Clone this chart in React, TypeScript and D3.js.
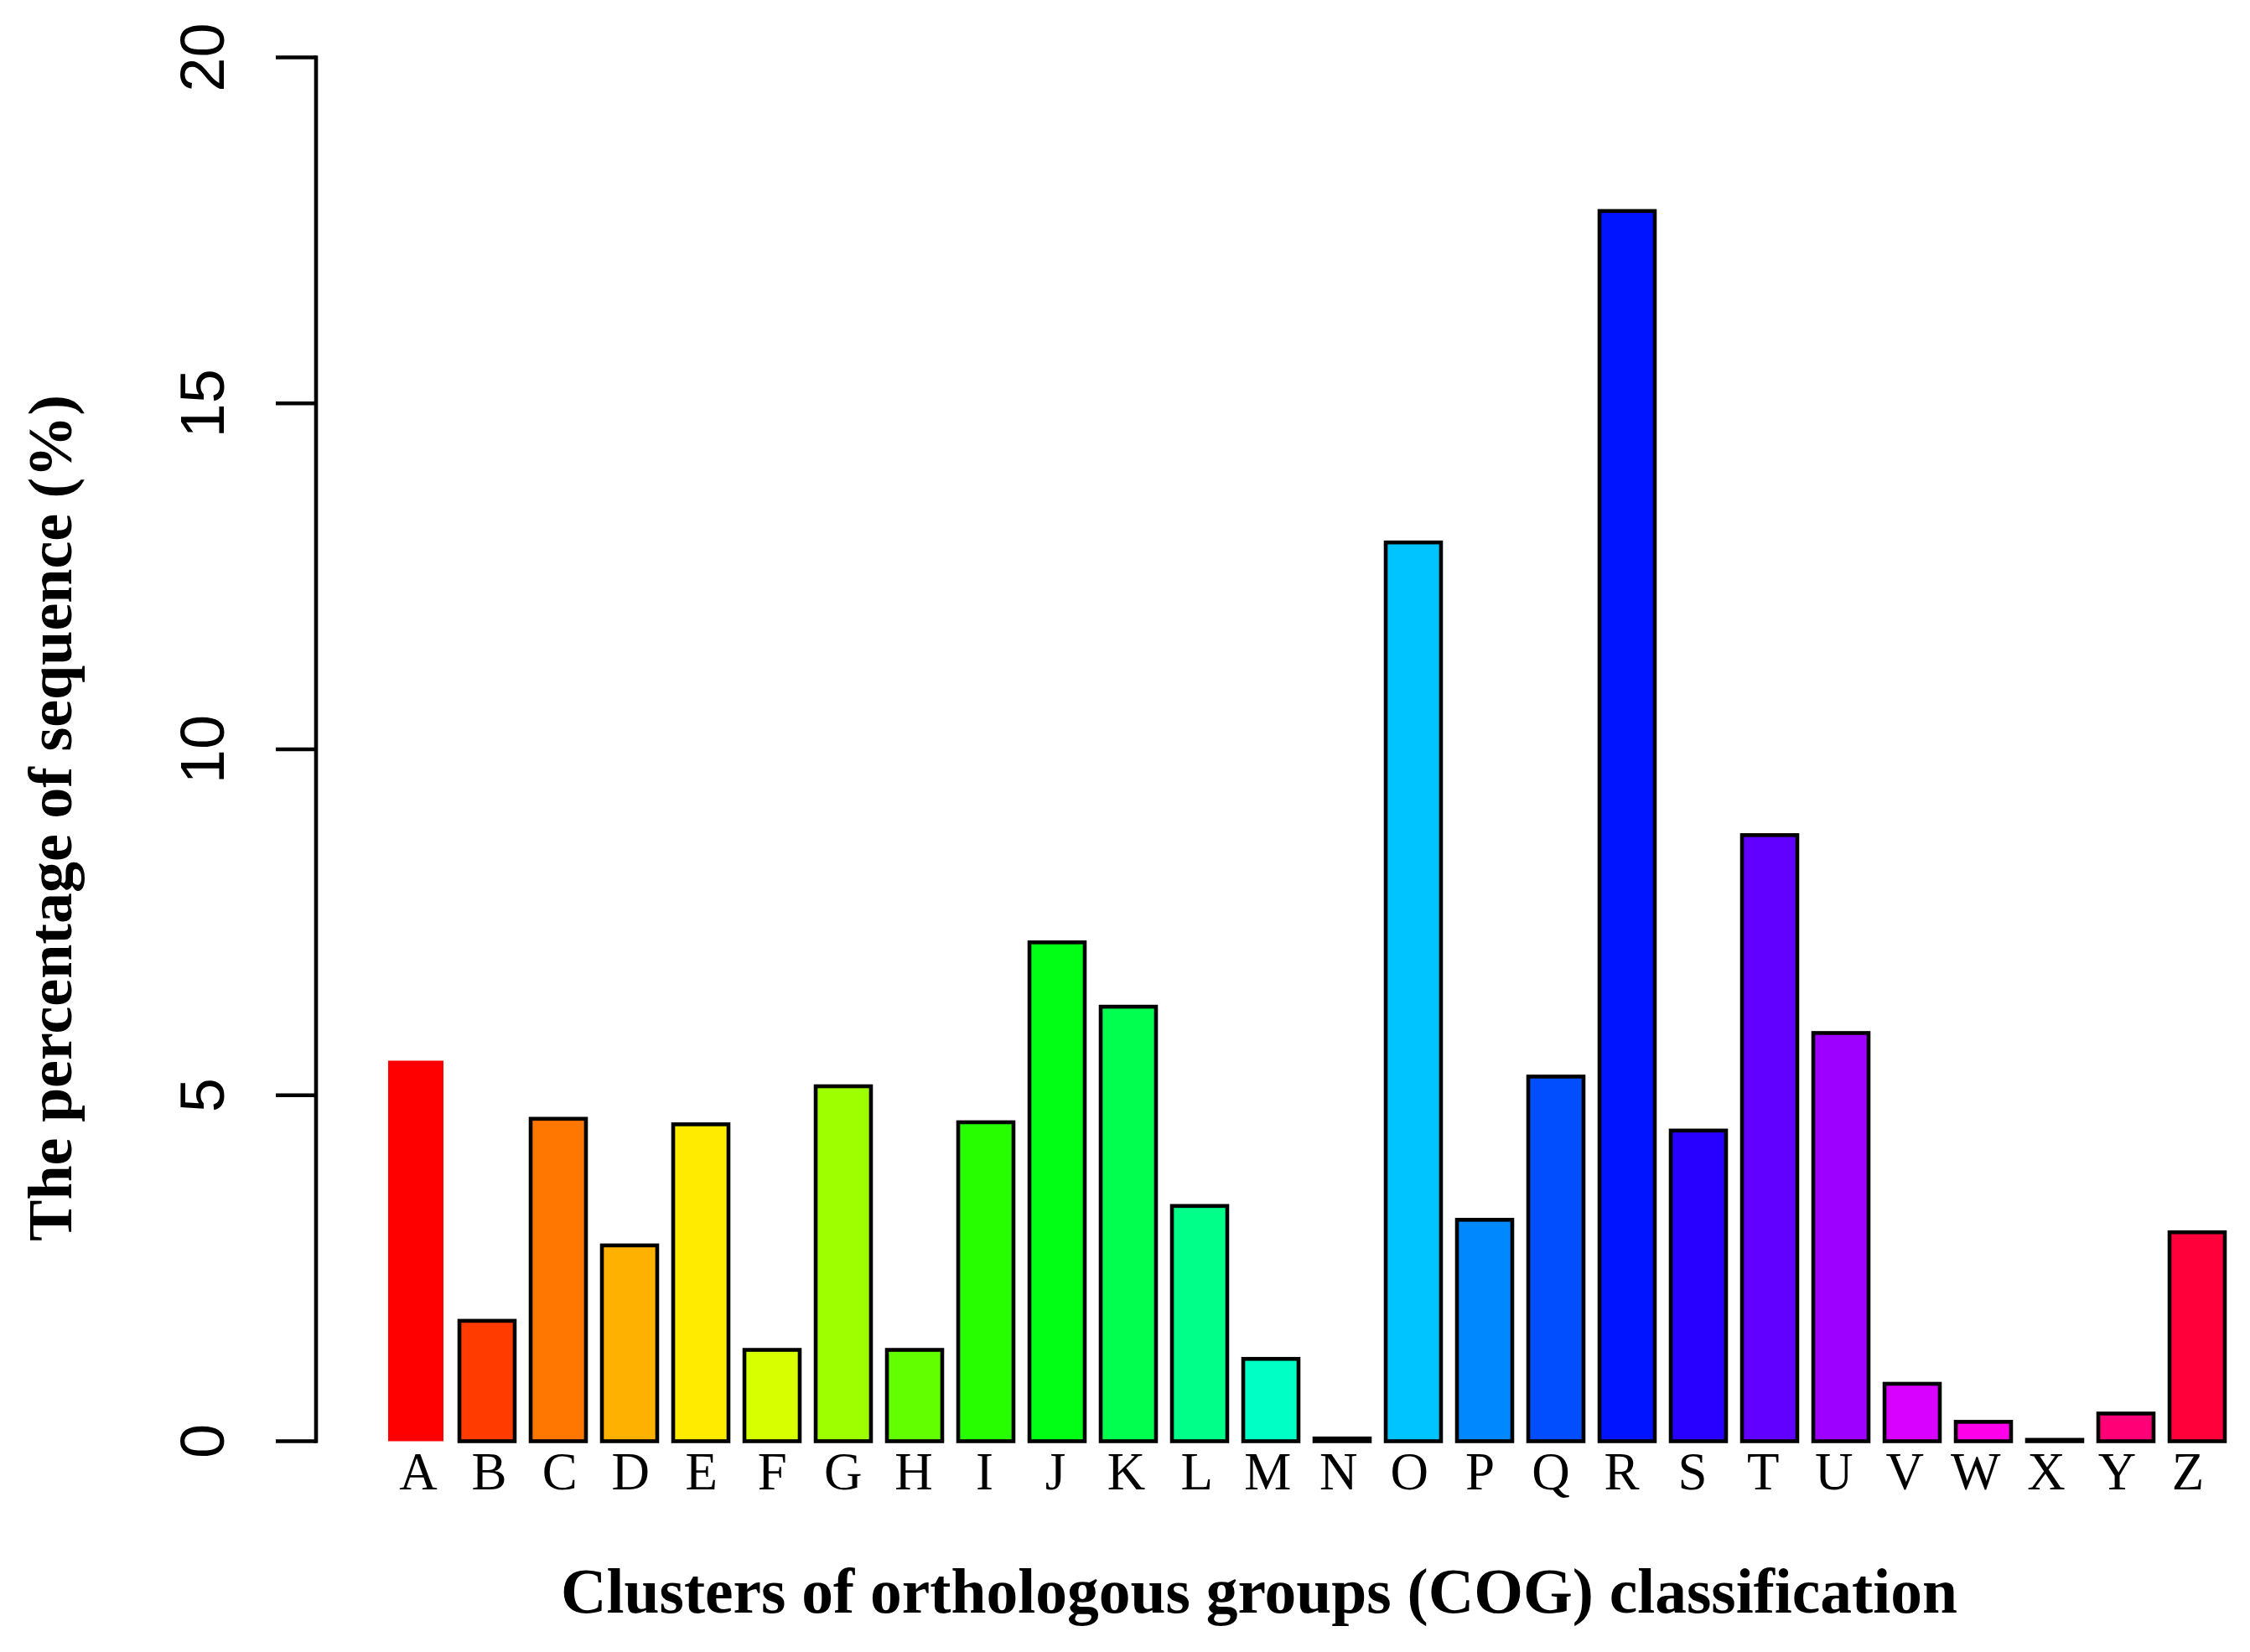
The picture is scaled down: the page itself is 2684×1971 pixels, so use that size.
import React from "react";
import * as d3 from "d3";

const categories = ["A","B","C","D","E","F","G","H","I","J","K","L","M","N","O","P","Q","R","S","T","U","V","W","X","Y","Z"];
const values = [5.50,1.74,4.66,2.83,4.58,1.32,5.13,1.32,4.61,7.21,6.28,3.40,1.19,0.04,12.99,3.20,5.27,17.78,4.49,8.76,5.90,0.83,0.28,0.02,0.40,3.02];
const colors = ["#FF0000","#FF3B00","#FF7600","#FFB100","#FFEB00","#D8FF00","#9DFF00","#62FF00","#27FF00","#00FF14","#00FF4E","#00FF89","#00FFC4","#00FFFF","#00C4FF","#0089FF","#004EFF","#0014FF","#2700FF","#6200FF","#9D00FF","#D800FF","#FF00EB","#FF00B1","#FF0076","#FF003B"];
const noBorder = ["A"];
const yTicks = [0, 5, 10, 15, 20];
const xTitle = "Clusters of orthologous groups (COG) classification";
const yTitle = "The percentage of sequence (%)";

const W = 2684;
const H = 1971;

export default function App() {
  const x = d3.scaleBand<string>()
    .domain(categories)
    .range([453.5, 2663.5])
    .paddingInner(0.224)
    .paddingOuter(0.112);
  const xLab = d3.scalePoint<string>().domain(categories).range([499, 2610]);
  const y = d3.scaleLinear().domain([0, 20]).range([1719.5, 68.5]);
  const axisX = 377;
  const sw = 4.6;

  return (
    <svg width={W} height={H} viewBox={`0 0 ${W} ${H}`}
      style={{ position: "absolute", left: 0, top: 0, background: "#fff" }}>
      <rect x={0} y={0} width={W} height={H} fill="#fff" />
      {categories.map((c, i) => {
        const v = values[i];
        const x0 = x(c)!;
        const yTop = y(v);
        const hasBorder = noBorder.indexOf(c) < 0;
        return (
          <rect key={c} x={x0} y={yTop} width={x.bandwidth()}
            height={y(0) - yTop}
            fill={colors[i]}
            stroke={hasBorder ? "#000" : "none"}
            strokeWidth={sw} />
        );
      })}
      {/* y axis */}
      <line x1={axisX} x2={axisX} y1={y(20)} y2={y(0)} stroke="#000" strokeWidth={sw} strokeLinecap="square" />
      {yTicks.map((t) => (
        <g key={t}>
          <line x1={axisX - 48} x2={axisX} y1={y(t)} y2={y(t)} stroke="#000" strokeWidth={sw} />
          <text transform={`translate(267,${y(t)}) rotate(-90)`} textAnchor="middle"
            fontFamily="'Liberation Sans', Arial, sans-serif" fontSize={74} fill="#000">{t}</text>
        </g>
      ))}
      {/* category labels */}
      {categories.map((c) => (
        <text key={"l" + c} x={xLab(c)!} y={1777} textAnchor="middle"
          fontFamily="'Liberation Serif', 'Times New Roman', serif" fontSize={63} fill="#000">{c}</text>
      ))}
      {/* titles */}
      <text x={1502} y={1924} textAnchor="middle"
        fontFamily="'Liberation Serif', 'Times New Roman', serif" fontWeight="bold" fontSize={75.5} fill="#000">{xTitle}</text>
      <text transform="translate(85,976) rotate(-90)" textAnchor="middle"
        fontFamily="'Liberation Serif', 'Times New Roman', serif" fontWeight="bold" fontSize={74} fill="#000">{yTitle}</text>
    </svg>
  );
}
